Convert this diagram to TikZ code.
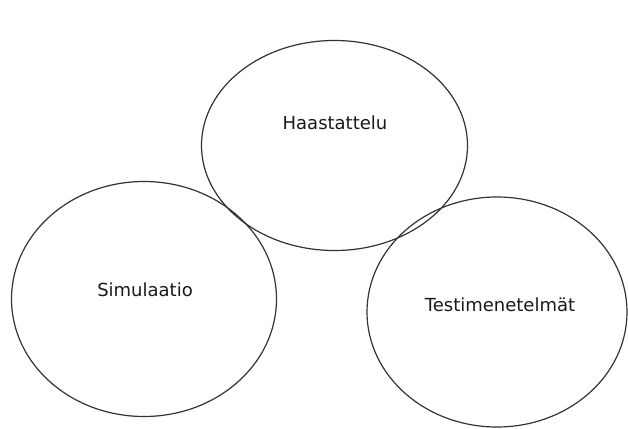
\documentclass[tikz,border=0pt]{standalone}
\usepackage{fontspec}
\setmainfont{DejaVu Sans}
\usetikzlibrary{shapes,positioning}

\tikzset{
  method/.style={ellipse, draw=black!80, line width=1.2pt, inner sep=0pt},
  word/.style={font=\fontsize{18}{21}\selectfont, text=black!90}
}

\begin{document}
\begin{tikzpicture}[x=1pt,y=-1pt]
\useasboundingbox (0,0) rectangle (628,428);
\node[method, minimum width=266, minimum height=210] (haast) at (334.5,145.5) {};
\node[method, minimum width=265, minimum height=235] (simu) at (144,299) {};
\node[method, minimum width=260, minimum height=230] (testi) at (497,312) {};

\node[word] (haastlbl) at (335,123) {Haastattelu};
\node[word] (simulbl) at (145,290) {Simulaatio};
\node[word] (testilbl) at (500,305) {Testimenetelmät};
\end{tikzpicture}
\end{document}
